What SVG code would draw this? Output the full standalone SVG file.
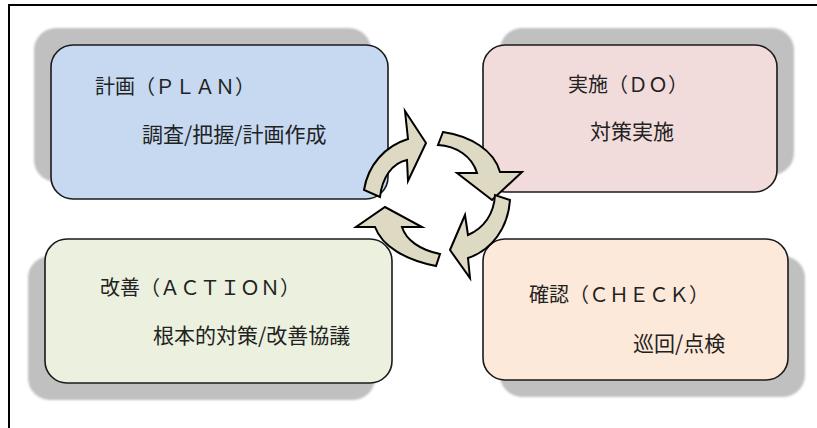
<svg xmlns="http://www.w3.org/2000/svg" width="817" height="428" viewBox="0 0 817 428">
  <defs>
    <filter id="soft" x="-10%" y="-10%" width="120%" height="120%">
      <feGaussianBlur stdDeviation="1.2"/>
    </filter>
    <style>
      .frame { fill: none; stroke: #000; stroke-width: 2; }
      .shadow { fill: #c0c0c0; filter: url(#soft); }
      .box { stroke: #1a1a1a; stroke-width: 1.6; }
      .title { font-family: "Noto Sans CJK JP", "Liberation Sans", sans-serif; font-size: 20px; fill: #222; }
      .sub { font-family: "Noto Sans CJK JP", "Liberation Sans", sans-serif; font-size: 21px; fill: #222; }
      .arrow { fill: #ddd9c3; stroke: #000; stroke-width: 2; stroke-linejoin: miter; stroke-miterlimit: 10; }
    </style>
  </defs>
  <rect x="0" y="0" width="817" height="428" fill="#fff"/>
  <rect class="frame" x="9" y="5" width="830" height="440"/>

  <g id="plan">
    <rect class="shadow" x="34" y="28" width="337" height="154" rx="22"/>
    <rect class="box" x="51" y="45" width="337" height="154" rx="22" fill="#c6d9f1"/>
    <text class="title" x="95" y="94">計画（ＰＬＡＮ）</text>
    <text class="sub" x="142" y="142">調査/把握/計画作成</text>
  </g>

  <g id="do">
    <rect class="shadow" x="500" y="28" width="294" height="147" rx="22"/>
    <rect class="box" x="483" y="45" width="294" height="147" rx="22" fill="#f2dcdb"/>
    <text class="title" x="568" y="92">実施（ＤＯ）</text>
    <text class="sub" x="590" y="138.5">対策実施</text>
  </g>

  <g id="action">
    <rect class="shadow" x="28" y="256" width="347" height="144" rx="22"/>
    <rect class="box" x="45" y="239" width="347" height="144" rx="22" fill="#ebf1de"/>
    <text class="title" x="100" y="295">改善（ＡＣＴＩＯＮ）</text>
    <text class="sub" x="153" y="342.5">根本的対策/改善協議</text>
  </g>

  <g id="check">
    <rect class="shadow" x="500" y="256" width="305" height="141" rx="22"/>
    <rect class="box" x="483" y="239" width="305" height="141" rx="22" fill="#fde9d9"/>
    <text class="title" x="529" y="302">確認（ＣＨＥＣＫ）</text>
    <text class="sub" x="633" y="351">巡回/点検</text>
  </g>

  <g id="connectors">
    <path class="arrow" d="M364,190 C368,165 385,146 408,139 L405,111 L426,143 L408,181 L407,160 C392,163 382,178 380,197 Z"/>
    <path class="arrow" d="M443,132 C470,136 494,150 500,172 L522,172 L492,200 L457,173 L477,173 C472,156 456,146 438,145 Z"/>
    <path class="arrow" d="M510,200 C508,228 492,250 468,258 L470,278 L450,250 L465,215 L468,235 C484,228 494,214 495,195 Z"/>
    <path class="arrow" d="M436,266 C405,260 382,246 375,227 L356,227 L385,207 L422,227 L402,227 C406,240 420,250 440,254 Z"/>
  </g>
</svg>
